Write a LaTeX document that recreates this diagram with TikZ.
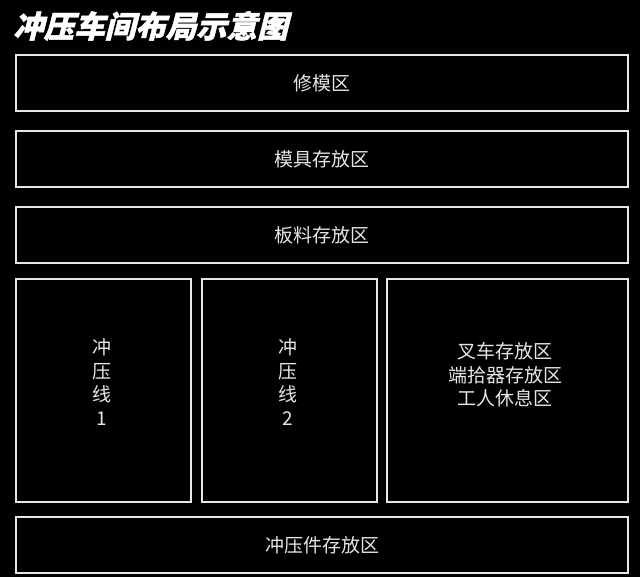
\documentclass[tikz,border=0pt]{standalone}
\usepackage{fontspec}
\newfontfamily\cjk{Noto Sans CJK SC}
\newfontfamily\cjktitle{Noto Sans CJK SC Black}[FakeSlant=0.25,FakeBold=1.5]
\definecolor{fg}{HTML}{E6E6E6}
\begin{document}
\begin{tikzpicture}[x=1pt,y=-1pt,
  zone/.style={draw=fg,line width=2pt,fill=black},
  lbl/.style={text=fg,font=\cjk\fontsize{19}{23.5}\selectfont,align=center,inner sep=0pt}]
\fill[black] (0,0) rectangle (640,577);
\useasboundingbox (0,0) rectangle (640,577);
\node[anchor=west,text=white,font=\cjktitle\fontsize{30.5}{32}\selectfont,inner sep=0pt] (title) at (13,26) {冲压车间布局示意图};
\draw[zone] (16,55) rectangle (628,111);
\node[lbl] (t1) at (322,83) {修模区};
\draw[zone] (16,131) rectangle (628,187);
\node[lbl] (t2) at (322,159) {模具存放区};
\draw[zone] (16,207) rectangle (628,263);
\node[lbl] (t3) at (322,235) {板料存放区};
\draw[zone] (16,279) rectangle (191,502);
\node[lbl] (t4) at (102,382) {冲\\压\\线\\1};
\draw[zone] (202,279) rectangle (377,502);
\node[lbl] (t5) at (288,382) {冲\\压\\线\\2};
\draw[zone] (387,279) rectangle (628,502);
\node[lbl] (t6) at (505,375) {叉车存放区\\端拾器存放区\\工人休息区};
\draw[zone] (16,517) rectangle (628,573);
\node[lbl] (t7) at (322,545) {冲压件存放区};
\end{tikzpicture}
\end{document}
